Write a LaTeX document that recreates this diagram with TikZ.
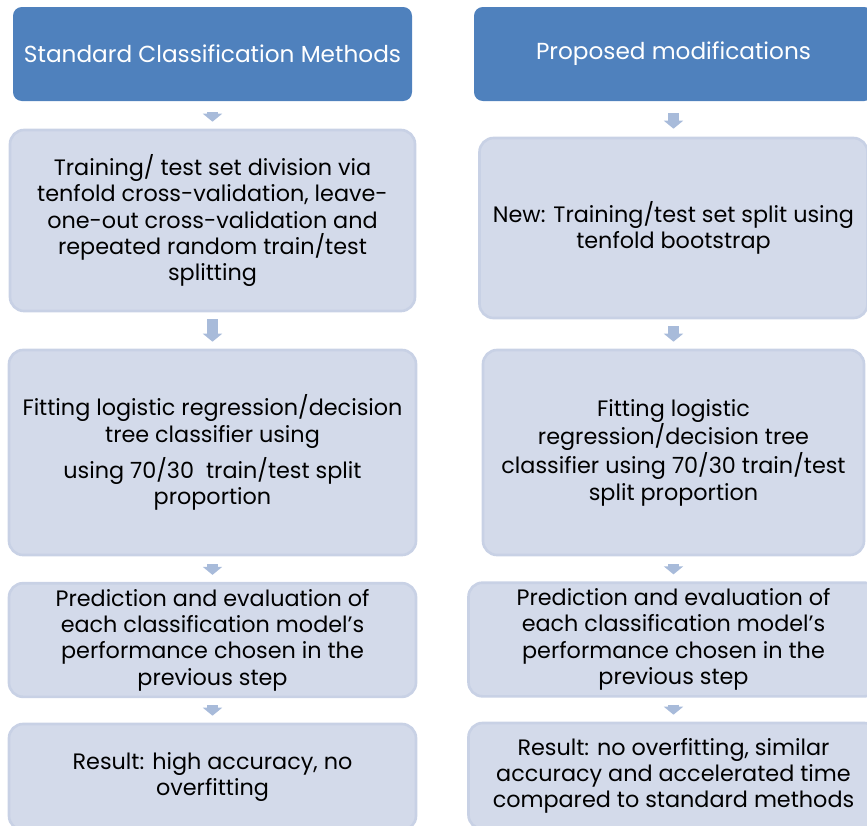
\documentclass[tikz,border=0pt]{standalone}
\usepackage{fontspec}
\setmainfont{Poppins}
\usepackage{xcolor}
\usetikzlibrary{arrows.meta,positioning,calc}
\definecolor{headblue}{HTML}{4F81BD}
\definecolor{boxfill}{HTML}{D3DAEA}
\definecolor{boxline}{HTML}{C8D1E5}
\definecolor{flowblue}{HTML}{A8BBDA}

\begin{document}
\begin{tikzpicture}[
  head/.style={rectangle, rounded corners=5pt, fill=headblue, text=white,
    font=\fontsize{13.2}{16}\selectfont, align=center},
  stepbox/.style={rectangle, rounded corners=8pt, fill=boxfill, draw=boxline,
    line width=1.5pt, font=\fontsize{12.7}{15}\selectfont, align=center},
  flow/.style={draw=flowblue, line width=0.22cm,
    -{Triangle[width=0.38cm,length=0.16cm]}}
]
\useasboundingbox (0,0) rectangle (17.34,-16.5);
\begin{scope}
\clip (0,0) rectangle (17.34,-16.5);

% Column headers
\node[head, minimum width=7.98cm, minimum height=1.88cm] (hstd) at (4.25,-1.08)
  {Standard Classification Methods};
\node[head, minimum width=7.98cm, minimum height=1.88cm] (hnew) at (13.47,-1.08)
  {Proposed modifications};

% Standard methods
\node[stepbox, minimum width=8.10cm, minimum height=3.62cm] (std1) at (4.25,-4.41)
  {Training/ test set division via\\tenfold cross-validation, leave-\\one-out cross-validation and\\repeated random train/test\\splitting};
\node[stepbox, minimum width=8.14cm, minimum height=4.10cm] (std2) at (4.25,-9.05)
  {Fitting logistic regression/decision\\tree classifier using\\[4pt]using 70/30\ \ train/test split\\proportion};
\node[stepbox, minimum width=8.14cm, minimum height=2.12cm] (std3) at (4.25,-12.80)
  {Prediction and evaluation of\\each classification model's\\performance chosen in the\\previous step};
\node[stepbox, minimum width=8.14cm, minimum height=2.12cm] (std4) at (4.25,-15.54)
  {Result: high accuracy, no\\overfitting};

% Proposed modifications
\node[stepbox, minimum width=7.76cm, minimum height=3.60cm] (new1) at (13.47,-4.56)
  {New: Training/test set split using\\tenfold bootstrap};
\node[stepbox, minimum width=7.62cm, minimum height=4.10cm] (new2) at (13.47,-9.05)
  {Fitting logistic\\regression/decision tree\\classifier using 70/30 train/test\\split proportion};
\node[stepbox, minimum width=8.20cm, minimum height=2.10cm] (new3) at (13.47,-12.79)
  {Prediction and evaluation of\\each classification model's\\performance chosen in the\\previous step};
\node[stepbox, minimum width=8.20cm, minimum height=2.12cm] (new4) at (13.47,-15.52)
  {Result: no overfitting, similar\\accuracy and accelerated time\\compared to standard methods};

% Flow arrows
\draw[flow, shorten <=0.22cm, shorten >=0.14cm] (hstd) -- (std1);
\draw[flow, shorten <=0.14cm, shorten >=0.14cm] (std1) -- (std2);
\draw[flow, shorten <=0.16cm, shorten >=0.14cm] (std2) -- (std3);
\draw[flow, shorten <=0.14cm, shorten >=0.14cm] (std3) -- (std4);
\draw[flow, shorten <=0.24cm, shorten >=0.16cm] (hnew) -- (new1);
\draw[flow, shorten <=0.14cm, shorten >=0.14cm] (new1) -- (new2);
\draw[flow, shorten <=0.16cm, shorten >=0.14cm] (new2) -- (new3);
\draw[flow, shorten <=0.14cm, shorten >=0.14cm] (new3) -- (new4);
\end{scope}
\end{tikzpicture}
\end{document}
